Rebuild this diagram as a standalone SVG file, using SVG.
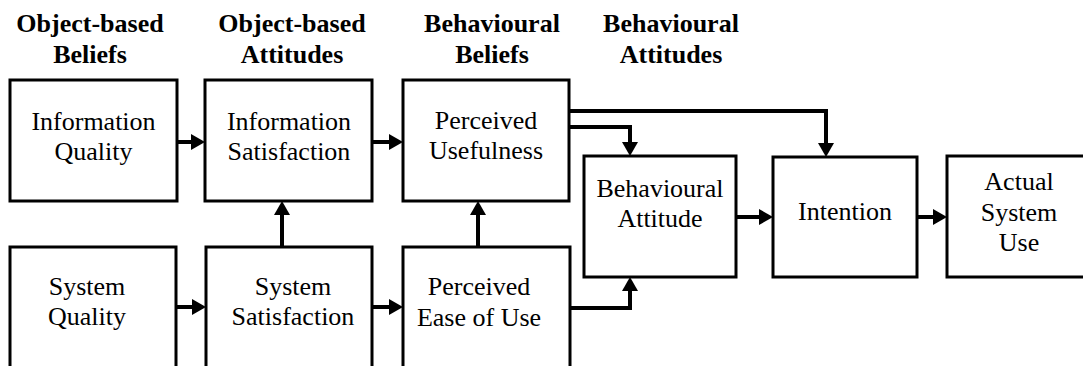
<svg xmlns="http://www.w3.org/2000/svg" width="1083" height="366" viewBox="0 0 1083 366">
<style>
.box{fill:#fff;stroke:#000;stroke-width:3}
.t{font-family:'Liberation Serif','Times New Roman',serif;font-size:26px;fill:#000;text-anchor:middle}
.h{font-family:'Liberation Serif','Times New Roman',serif;font-size:26px;font-weight:bold;fill:#000;text-anchor:middle}
.c{fill:none;stroke:#000;stroke-width:4}
</style>
<defs>
<marker id="ah" viewBox="0 0 14 16" markerWidth="14" markerHeight="16" refX="0" refY="8" orient="auto" markerUnits="userSpaceOnUse">
<path d="M0,0 L14,8 L0,16 z" fill="#000"/>
</marker>
</defs>
<rect width="1083" height="366" fill="#fff"/>
<g id="headers">
<text class="h" x="90" y="32">Object-based</text>
<text class="h" x="90" y="63">Beliefs</text>
<text class="h" x="292" y="32">Object-based</text>
<text class="h" x="292" y="63">Attitudes</text>
<text class="h" x="492" y="32">Behavioural</text>
<text class="h" x="492" y="63">Beliefs</text>
<text class="h" x="671" y="32">Behavioural</text>
<text class="h" x="671" y="63">Attitudes</text>
</g>
<g id="iq"><rect class="box" x="10" y="80" width="167" height="121"/><text class="t" x="93.5" y="130">Information</text><text class="t" x="93.5" y="160">Quality</text></g>
<g id="is"><rect class="box" x="205" y="80" width="167" height="121"/><text class="t" x="289" y="130">Information</text><text class="t" x="289" y="160">Satisfaction</text></g>
<g id="pu"><rect class="box" x="403" y="80" width="166" height="121"/><text class="t" x="486" y="129">Perceived</text><text class="t" x="486" y="159">Usefulness</text></g>
<g id="sq"><rect class="box" x="10" y="247" width="166" height="140"/><text class="t" x="87" y="295">System</text><text class="t" x="87" y="325">Quality</text></g>
<g id="ss"><rect class="box" x="206" y="247" width="166" height="140"/><text class="t" x="293" y="295">System</text><text class="t" x="293" y="325">Satisfaction</text></g>
<g id="peou"><rect class="box" x="403" y="247" width="167" height="140"/><text class="t" x="479" y="295">Perceived</text><text class="t" x="479" y="326">Ease of Use</text></g>
<g id="ba"><rect class="box" x="584" y="156" width="152" height="121"/><text class="t" x="660" y="197">Behavioural</text><text class="t" x="660" y="227">Attitude</text></g>
<g id="int"><rect class="box" x="773" y="157" width="144" height="120"/><text class="t" x="845" y="220">Intention</text></g>
<g id="asu"><rect class="box" x="947" y="156" width="150" height="121"/><text class="t" x="1019" y="190">Actual</text><text class="t" x="1019" y="221">System</text><text class="t" x="1019" y="251">Use</text></g>
<g id="connectors">
<path class="c" d="M177,142 H191" marker-end="url(#ah)"/>
<path class="c" d="M372,142 H389" marker-end="url(#ah)"/>
<path class="c" d="M176,307 H192" marker-end="url(#ah)"/>
<path class="c" d="M372,307 H389" marker-end="url(#ah)"/>
<path class="c" d="M282,247 V215" marker-end="url(#ah)"/>
<path class="c" d="M478,247 V215" marker-end="url(#ah)"/>
<path class="c" d="M569,127 H630 V142" marker-end="url(#ah)"/>
<path class="c" d="M569,111 H826 V143" marker-end="url(#ah)"/>
<path class="c" d="M570,308 H630 V291" marker-end="url(#ah)"/>
<path class="c" d="M736,217 H759" marker-end="url(#ah)"/>
<path class="c" d="M917,217 H933" marker-end="url(#ah)"/>
</g>
</svg>
